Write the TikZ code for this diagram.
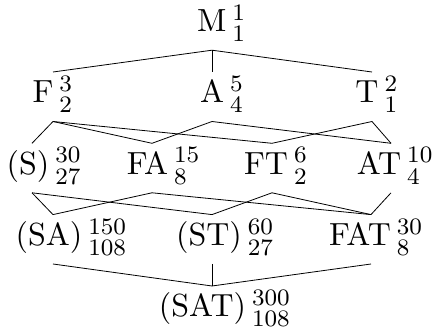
\documentclass[tikz,border=0pt]{standalone}
\usepackage{graphicx}
\newcommand\mtxt[1]{\scalebox{3.2}{\fontsize{10}{12}\selectfont #1}}
\newcommand\stxt[1]{\scalebox{2.95}{\fontsize{8}{9}\selectfont #1}}
\newcommand\scr[2]{\rlap{\raisebox{11.5pt}{\stxt{#1}}}\raisebox{-10pt}{\stxt{#2}}}
\tikzset{
  mainlbl/.style={anchor=base, inner sep=0pt, outer sep=0pt},
  scrlbl/.style={anchor=base west, inner sep=0pt, outer sep=0pt, xshift=6pt},
  edgeline/.style={line width=0.8pt, black}
}
\begin{document}
\begin{tikzpicture}[x=1pt, y=-1pt]
\useasboundingbox (0,0) rectangle (432,331);
% labels
\node[mainlbl] (M) at (211.7,31.7) {\mtxt{M}};
\node[scrlbl] (M-s) at (M.base east) {\scr{1}{1}};
\node[mainlbl] (F) at (43,103) {\mtxt{F}};
\node[scrlbl] (F-s) at (F.base east) {\scr{3}{2}};
\node[mainlbl] (A) at (212,103) {\mtxt{A}};
\node[scrlbl] (A-s) at (A.base east) {\scr{5}{4}};
\node[mainlbl] (T) at (367,103) {\mtxt{T}};
\node[scrlbl] (T-s) at (T.base east) {\scr{2}{1}};
\node[mainlbl] (S) at (28,174.3) {\mtxt{(S)}};
\node[scrlbl] (S-s) at (S.base east) {\scr{30}{27}};
\node[mainlbl] (FA) at (147.5,174.3) {\mtxt{FA}};
\node[scrlbl] (FA-s) at (FA.base east) {\scr{15}{8}};
\node[mainlbl] (FT) at (266,174.3) {\mtxt{FT}};
\node[scrlbl] (FT-s) at (FT.base east) {\scr{6}{2}};
\node[mainlbl] (AT) at (379,174.3) {\mtxt{AT}};
\node[scrlbl] (AT-s) at (AT.base east) {\scr{10}{4}};
\node[mainlbl] (SA) at (49,245.6) {\mtxt{(SA)}};
\node[scrlbl] (SA-s) at (SA.base east) {\scr{150}{108}};
\node[mainlbl] (ST) at (209,245.6) {\mtxt{(ST)}};
\node[scrlbl] (ST-s) at (ST.base east) {\scr{60}{27}};
\node[mainlbl] (FAT) at (360,245.6) {\mtxt{FAT}};
\node[scrlbl] (FAT-s) at (FAT.base east) {\scr{30}{8}};
\node[mainlbl] (SAT) at (202.5,317) {\mtxt{(SAT)}};
\node[scrlbl] (SAT-s) at (SAT.base east) {\scr{300}{108}};
% connector ends
\coordinate (M-b) at (212,50.2);
\coordinate (F-t) at (53,72);   \coordinate (F-b) at (53,121.5);
\coordinate (A-t) at (212,72);  \coordinate (A-b) at (212,121.5);
\coordinate (T-t) at (372,72);  \coordinate (T-b) at (372,121.5);
\coordinate (S-t) at (32,143.3);  \coordinate (S-b) at (32,192.8);
\coordinate (FA-t) at (152,143.3); \coordinate (FA-b) at (152,192.8);
\coordinate (FT-t) at (272,143.3); \coordinate (FT-b) at (272,192.8);
\coordinate (AT-t) at (391,143.3); \coordinate (AT-b) at (391,192.8);
\coordinate (SA-t) at (53,214.6);  \coordinate (SA-b) at (53,264);
\coordinate (ST-t) at (212,214.6); \coordinate (ST-b) at (212,264);
\coordinate (FAT-t) at (371,214.6); \coordinate (FAT-b) at (371,264);
\coordinate (SAT-t) at (212,286);
% connectors
\draw[edgeline] (M-b) -- (F-t);
\draw[edgeline] (M-b) -- (A-t);
\draw[edgeline] (M-b) -- (T-t);
\draw[edgeline] (F-b) -- (S-t);
\draw[edgeline] (F-b) -- (FA-t);
\draw[edgeline] (F-b) -- (FT-t);
\draw[edgeline] (A-b) -- (FA-t);
\draw[edgeline] (A-b) -- (AT-t);
\draw[edgeline] (T-b) -- (FT-t);
\draw[edgeline] (T-b) -- (AT-t);
\draw[edgeline] (S-b) -- (SA-t);
\draw[edgeline] (S-b) -- (ST-t);
\draw[edgeline] (FA-b) -- (SA-t);
\draw[edgeline] (FA-b) -- (FAT-t);
\draw[edgeline] (FT-b) -- (ST-t);
\draw[edgeline] (FT-b) -- (FAT-t);
\draw[edgeline] (AT-b) -- (FAT-t);
\draw[edgeline] (SA-b) -- (SAT-t);
\draw[edgeline] (ST-b) -- (SAT-t);
\draw[edgeline] (FAT-b) -- (SAT-t);
\end{tikzpicture}
\end{document}
